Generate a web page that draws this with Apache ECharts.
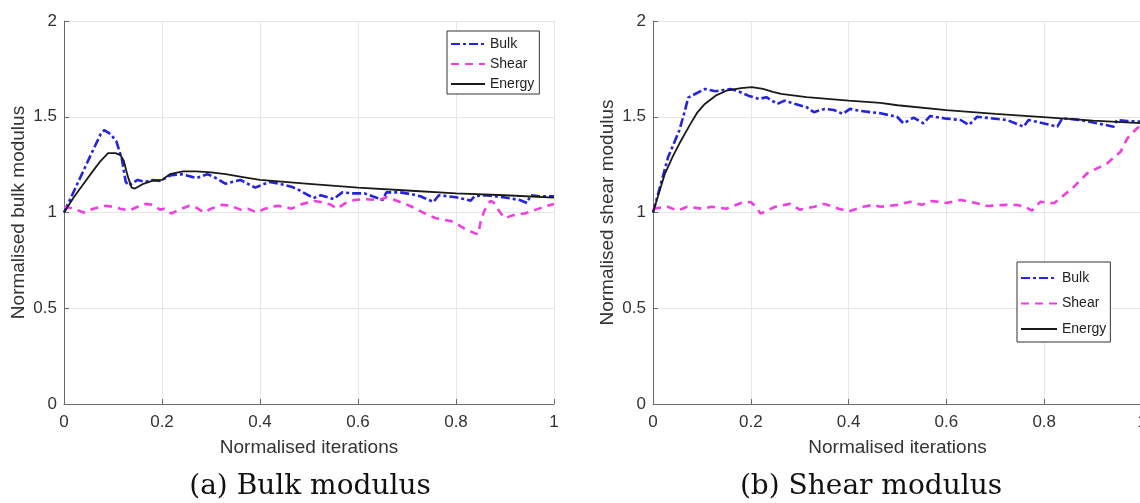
<!DOCTYPE html>
<html>
<head>
<meta charset="utf-8">
<script src="https://cdn.jsdelivr.net/npm/echarts@6/dist/echarts.min.js"></script>
<style>
  html, body { margin: 0; padding: 0; background: #fff; }
  #chart { width: 1140px; height: 503px; }
</style>
</head>
<body>
<div id="chart"></div>
<script>
// (a) bulk modulus panel, [normalised iteration, value]
const bulkA = [[0,1.0],[0.02,1.11],[0.04,1.22],[0.06,1.33],[0.075,1.41],[0.082,1.43],[0.095,1.41],[0.107,1.37],[0.118,1.28],[0.126,1.16],[0.132,1.14],[0.15,1.17],[0.165,1.16],[0.18,1.17],[0.196,1.165],[0.219,1.195],[0.241,1.2],[0.255,1.19],[0.271,1.18],[0.293,1.2],[0.31,1.18],[0.33,1.15],[0.36,1.17],[0.39,1.13],[0.42,1.16],[0.44,1.15],[0.464,1.135],[0.482,1.114],[0.509,1.075],[0.524,1.09],[0.55,1.07],[0.568,1.105],[0.59,1.1],[0.613,1.1],[0.635,1.08],[0.65,1.065],[0.658,1.105],[0.686,1.105],[0.71,1.095],[0.727,1.085],[0.754,1.055],[0.765,1.09],[0.8,1.08],[0.83,1.062],[0.838,1.085],[0.861,1.09],[0.896,1.08],[0.93,1.065],[0.945,1.05],[0.952,1.09],[0.97,1.085],[1.0,1.085]];
const shearA = [[0,1.03],[0.02,1.02],[0.04,1.0],[0.06,1.02],[0.085,1.035],[0.1,1.03],[0.115,1.02],[0.133,1.01],[0.15,1.03],[0.167,1.045],[0.18,1.04],[0.196,1.015],[0.205,1.02],[0.219,0.995],[0.235,1.015],[0.256,1.035],[0.27,1.025],[0.286,1.0],[0.3,1.02],[0.323,1.04],[0.34,1.035],[0.36,1.015],[0.375,1.02],[0.394,1.0],[0.41,1.02],[0.435,1.035],[0.45,1.03],[0.464,1.02],[0.487,1.045],[0.51,1.06],[0.524,1.055],[0.545,1.04],[0.557,1.02],[0.575,1.05],[0.593,1.065],[0.613,1.07],[0.643,1.065],[0.658,1.08],[0.675,1.065],[0.691,1.05],[0.71,1.03],[0.725,1.01],[0.745,0.985],[0.759,0.97],[0.79,0.955],[0.805,0.935],[0.821,0.91],[0.845,0.885],[0.851,0.96],[0.858,1.01],[0.87,1.06],[0.876,1.055],[0.89,1.0],[0.9,0.97],[0.915,0.985],[0.94,0.995],[0.963,1.015],[0.98,1.03],[1.0,1.045]];
const energyA = [[0,1.0],[0.02,1.08],[0.04,1.15],[0.06,1.22],[0.075,1.27],[0.09,1.31],[0.105,1.31],[0.115,1.3],[0.122,1.27],[0.13,1.19],[0.138,1.13],[0.145,1.125],[0.162,1.15],[0.18,1.165],[0.2,1.17],[0.216,1.2],[0.243,1.215],[0.27,1.215],[0.3,1.21],[0.33,1.2],[0.365,1.185],[0.4,1.17],[0.45,1.16],[0.5,1.15],[0.6,1.13],[0.7,1.115],[0.8,1.1],[0.9,1.09],[1.0,1.078]];

// (b) shear modulus panel
const bulkB = [[0,1.0],[0.015,1.14],[0.031,1.29],[0.054,1.43],[0.065,1.53],[0.072,1.6],[0.087,1.62],[0.106,1.645],[0.128,1.633],[0.145,1.64],[0.158,1.645],[0.172,1.636],[0.195,1.61],[0.217,1.593],[0.232,1.602],[0.254,1.567],[0.269,1.584],[0.291,1.567],[0.314,1.55],[0.329,1.524],[0.351,1.541],[0.37,1.535],[0.388,1.515],[0.403,1.541],[0.425,1.53],[0.465,1.518],[0.499,1.5],[0.512,1.466],[0.533,1.495],[0.553,1.466],[0.567,1.504],[0.6,1.49],[0.629,1.483],[0.646,1.457],[0.663,1.5],[0.724,1.483],[0.758,1.448],[0.768,1.483],[0.8,1.465],[0.827,1.448],[0.837,1.492],[0.874,1.483],[0.91,1.465],[0.942,1.448],[0.949,1.483],[0.97,1.478],[1.0,1.474]];
const shearB = [[0,1.02],[0.03,1.03],[0.05,1.01],[0.07,1.03],[0.1,1.02],[0.12,1.03],[0.15,1.02],[0.18,1.05],[0.2,1.055],[0.21,1.03],[0.22,0.995],[0.25,1.03],[0.28,1.045],[0.3,1.015],[0.33,1.03],[0.35,1.045],[0.38,1.02],[0.4,1.005],[0.43,1.03],[0.45,1.04],[0.465,1.03],[0.5,1.04],[0.526,1.056],[0.55,1.04],[0.57,1.06],[0.6,1.05],[0.629,1.065],[0.66,1.05],[0.683,1.034],[0.72,1.04],[0.745,1.039],[0.76,1.03],[0.775,1.01],[0.792,1.056],[0.82,1.048],[0.837,1.083],[0.861,1.135],[0.888,1.205],[0.929,1.257],[0.956,1.317],[0.97,1.387],[0.99,1.44],[1.0,1.46]];
const energyB = [[0,1.0],[0.012,1.1],[0.024,1.2],[0.04,1.29],[0.054,1.36],[0.076,1.46],[0.09,1.52],[0.106,1.567],[0.128,1.61],[0.15,1.636],[0.18,1.65],[0.202,1.655],[0.225,1.645],[0.245,1.63],[0.262,1.619],[0.314,1.602],[0.4,1.584],[0.465,1.572],[0.5,1.56],[0.6,1.535],[0.7,1.515],[0.806,1.497],[0.9,1.48],[1.0,1.466]];

const legendNames = ['Bulk', 'Shear', 'Energy'];
const xTitle = 'Normalised iterations';
const yTitles = ['Normalised bulk modulus', 'Normalised shear modulus'];
const captions = ['(a) Bulk modulus', '(b) Shear modulus'];

const sans = 'Liberation Sans';
const axisColor = '#6a6a6a';
const textColor = '#333';

function xAx(i) {
    return {
        type: 'value', gridIndex: i, min: 0, max: 1, interval: 0.2,
        name: xTitle, nameLocation: 'middle', nameGap: 34,
        nameTextStyle: { fontFamily: sans, fontSize: 19, color: textColor },
        axisLine: { lineStyle: { color: axisColor } },
        axisTick: { inside: true, length: 5, lineStyle: { color: axisColor } },
        axisLabel: { fontFamily: sans, fontSize: 17, color: textColor, margin: 10 },
        splitLine: { show: true, lineStyle: { color: '#e6e6e6' } }
    };
}
function yAx(i) {
    return {
        type: 'value', gridIndex: i, min: 0, max: 2, interval: 0.5,
        name: yTitles[i], nameLocation: 'middle', nameGap: 36,
        nameTextStyle: { fontFamily: sans, fontSize: 19, color: textColor },
        axisLine: { show: true, lineStyle: { color: axisColor } },
        axisTick: { show: true, inside: true, length: 5, lineStyle: { color: axisColor } },
        axisLabel: { fontFamily: sans, fontSize: 17, color: textColor, margin: 7 },
        splitLine: { show: true, lineStyle: { color: '#e6e6e6' } }
    };
}

const styles = {
    Bulk: { color: '#2424e0', width: 2.6, type: [9, 3, 3, 3] },
    Shear: { color: '#f03ee0', width: 2.6, type: [8, 6] },
    Energy: { color: '#1a1a1a', width: 1.8, type: 'solid' }
};
function line(name, data, i) {
    return {
        name: name, type: 'line', xAxisIndex: i, yAxisIndex: i,
        data: data, symbol: 'none', showSymbol: false,
        itemStyle: { color: styles[name].color },
        lineStyle: styles[name]
    };
}

var myChart = echarts.init(document.getElementById('chart'));
var option = {
    backgroundColor: '#fff',
    animation: false,
    title: [
        { text: captions[0], left: 310, top: 473, textAlign: 'center', padding: 0,
          textStyle: { fontFamily: 'DejaVu Serif', fontWeight: 'normal', fontSize: 28, color: '#111' } },
        { text: captions[1], left: 871, top: 473, textAlign: 'center', padding: 0,
          textStyle: { fontFamily: 'DejaVu Serif', fontWeight: 'normal', fontSize: 28, color: '#111' } }
    ],
    grid: [
        { left: 64, top: 21, width: 490, height: 383, outerBoundsMode: 'none' },
        { left: 653, top: 21, width: 489, height: 383, outerBoundsMode: 'none' }
    ],
    legend: [
        { data: legendNames, orient: 'vertical', left: 447, top: 31,
          padding: [6, 5, 3, 3], itemGap: 6, itemWidth: 34, itemHeight: 14,
          itemStyle: { opacity: 0 },
          borderColor: '#333', borderWidth: 1, backgroundColor: '#fff',
          textStyle: { fontFamily: sans, fontSize: 14, color: '#222' } },
        { data: legendNames, orient: 'vertical', left: 1017, top: 262,
          padding: [9, 4, 6, 3], itemGap: 11.5, itemWidth: 36, itemHeight: 14,
          itemStyle: { opacity: 0 },
          borderColor: '#333', borderWidth: 1, backgroundColor: '#fff',
          textStyle: { fontFamily: sans, fontSize: 14, color: '#222' } }
    ],
    xAxis: [xAx(0), xAx(1)],
    yAxis: [yAx(0), yAx(1)],
    series: [
        line('Bulk', bulkA, 0), line('Shear', shearA, 0), line('Energy', energyA, 0),
        line('Bulk', bulkB, 1), line('Shear', shearB, 1), line('Energy', energyB, 1)
    ]
};
myChart.setOption(option);
</script>
</body>
</html>
